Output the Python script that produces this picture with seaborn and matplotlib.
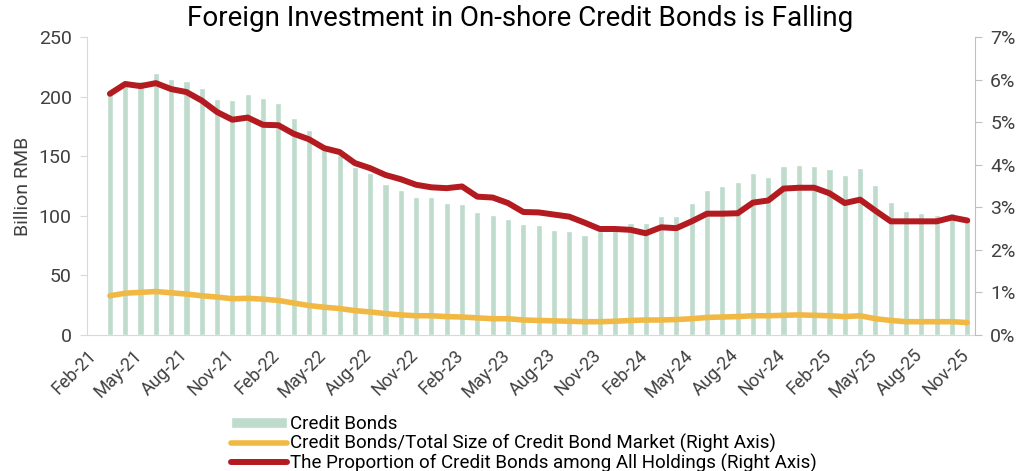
import numpy as np
import pandas as pd
import matplotlib
matplotlib.use("Agg")
import matplotlib.pyplot as plt
import seaborn as sns

# Monthly observations, Mar-21 .. Nov-25
months = pd.date_range("2021-03-01", "2025-11-01", freq="MS")

credit_bonds = [
    203, 211, 213, 220, 215, 213, 207, 198, 197, 202,
    199, 195, 182, 172, 155, 151, 141, 136, 127, 122,
    116, 116, 111, 110, 103, 101, 97, 93, 92, 88,
    87, 84, 87, 88, 94, 94, 100, 100, 111, 122,
    125, 128, 136, 133, 142, 143, 142, 139, 134, 140,
    126, 112, 104, 102, 101, 102, 99,
]

share_of_market = [
    0.92, 0.98, 1.00, 1.02, 0.99, 0.96, 0.92, 0.89, 0.85, 0.86,
    0.84, 0.81, 0.75, 0.69, 0.65, 0.62, 0.57, 0.54, 0.50, 0.47,
    0.45, 0.45, 0.43, 0.42, 0.40, 0.38, 0.38, 0.35, 0.34, 0.33,
    0.32, 0.31, 0.31, 0.32, 0.34, 0.35, 0.35, 0.36, 0.38, 0.41,
    0.42, 0.43, 0.45, 0.45, 0.46, 0.47, 0.46, 0.45, 0.43, 0.45,
    0.38, 0.34, 0.31, 0.31, 0.31, 0.31, 0.29,
]

share_of_holdings = [
    5.67, 5.90, 5.85, 5.92, 5.78, 5.71, 5.51, 5.24, 5.06, 5.11,
    4.94, 4.93, 4.73, 4.60, 4.39, 4.30, 4.04, 3.92, 3.76, 3.66,
    3.53, 3.47, 3.45, 3.49, 3.25, 3.23, 3.10, 2.89, 2.88, 2.83,
    2.78, 2.64, 2.49, 2.49, 2.47, 2.39, 2.53, 2.51, 2.67, 2.85,
    2.85, 2.86, 3.11, 3.16, 3.44, 3.46, 3.46, 3.33, 3.10, 3.18,
    2.92, 2.67, 2.67, 2.67, 2.67, 2.76, 2.69,
]

tick_labels = [
    "Feb-21", "May-21", "Aug-21", "Nov-21", "Feb-22", "May-22", "Aug-22",
    "Nov-22", "Feb-23", "May-23", "Aug-23", "Nov-23", "Feb-24", "May-24",
    "Aug-24", "Nov-24", "Feb-25", "May-25", "Aug-25", "Nov-25",
]

BAR_C = "#bedbcb"
GOLD = "#f1b944"
RED = "#b31b21"
TEXT = "#404040"
FONT = ["Roboto", "DejaVu Sans"]

sns.set_style("white")
plt.rcParams["font.family"] = FONT

# month slots measured from Feb-21; each value sits in the middle of its month
origin = pd.Timestamp("2021-02-01")
slot = (months.year - origin.year) * 12 + (months.month - origin.month)
df = pd.DataFrame({
    "x": slot + 0.5,
    "bonds": credit_bonds,
    "mkt": share_of_market,
    "hold": share_of_holdings,
})

fig = plt.figure(figsize=(10.23, 4.71), dpi=100)
ax = fig.add_axes([0.085, 0.289, 0.868, 0.632])

sns.barplot(data=df, x="x", y="bonds", native_scale=True, width=0.4,
            color=BAR_C, saturation=1, ax=ax, label="Credit Bonds")

ax2 = ax.twinx()
sns.lineplot(data=df, x="x", y="mkt", color=GOLD, lw=4.0, ax=ax2,
             solid_capstyle="round",
             label="Credit Bonds/Total Size of Credit Bond Market (Right Axis)")
sns.lineplot(data=df, x="x", y="hold", color=RED, lw=4.3, ax=ax2,
             solid_capstyle="round",
             label="The Proportion of Credit Bonds among All Holdings (Right Axis)")

n_slots = slot.max() + 1
ax.set_xlim(0, n_slots)
ax.set_xticks(np.arange(0, n_slots, 3))
ax.set_xticklabels(tick_labels, rotation=45, ha="right", rotation_mode="anchor",
                   fontsize=13, color=TEXT)
ax.set_ylim(0, 250)
ax.set_yticks(np.arange(0, 251, 50))
ax.tick_params(axis="y", labelsize=14, colors=TEXT, length=5, color="#d9d9d9",
               direction="out", pad=6)
ax.tick_params(axis="x", length=5, color="#d9d9d9", direction="out", pad=3)
for lab in ax.get_yticklabels():
    lab.set_color(TEXT)
ax.set_xlabel("")
ax.set_ylabel("Billion RMB", fontsize=14, color=TEXT, labelpad=5)

ax2.set_ylim(0, 7)
ax2.set_yticks(np.arange(0, 8, 1))
ax2.set_yticklabels([f"{v}%" for v in range(8)], fontsize=14, color=TEXT)
ax2.tick_params(axis="y", length=5, color="#bfbfbf", direction="out", pad=6)
ax2.set_ylabel("")
ax2.set_xlabel("")

for a in (ax, ax2):
    a.spines["top"].set_visible(False)
ax.spines["left"].set_color("#d9d9d9")
ax.spines["bottom"].set_color("#d9d9d9")
ax.spines["right"].set_visible(False)
ax2.spines["left"].set_visible(False)
ax2.spines["bottom"].set_visible(False)
ax2.spines["right"].set_color("#bfbfbf")

h1, l1 = ax.get_legend_handles_labels()
h2, l2 = ax2.get_legend_handles_labels()
if ax.get_legend():
    ax.get_legend().remove()
if ax2.get_legend():
    ax2.get_legend().remove()
fig.legend(h1 + h2, l1 + l2, loc="upper left", bbox_to_anchor=(0.226, 0.118),
           frameon=False, fontsize=13.5, handlelength=3.0, handleheight=0.55,
           handletextpad=0.15, labelspacing=0.02, borderpad=0, borderaxespad=0,
           labelcolor="#000000")

fig.suptitle("Foreign Investment in On-shore Credit Bonds is Falling",
             fontsize=20, x=0.508, y=0.99, va="top", color="#000000")

fig.savefig("out.png", dpi=100)
